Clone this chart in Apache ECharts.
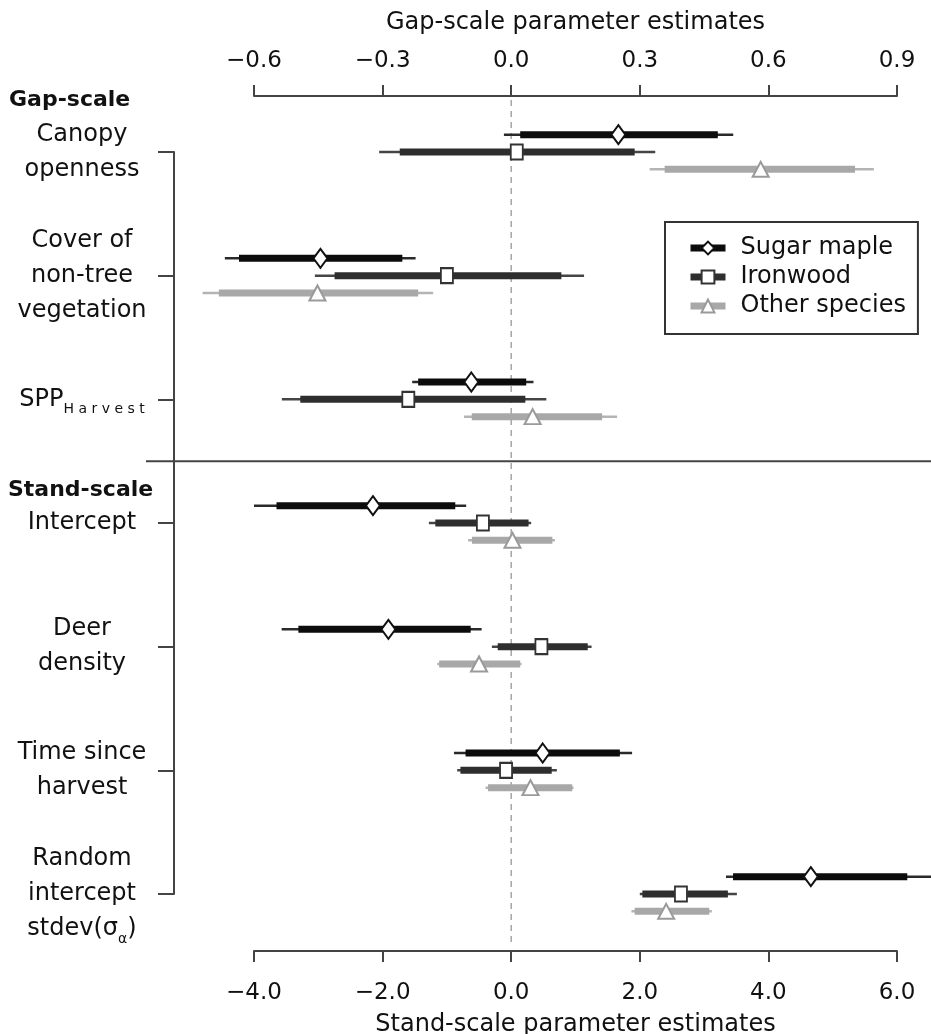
<!DOCTYPE html>
<html>
<head>
<meta charset="utf-8">
<script src="https://cdn.jsdelivr.net/npm/echarts@6/dist/echarts.min.js"></script>
<style>
html, body { margin: 0; padding: 0; background: #fff; }
#main { width: 931px; height: 1034px; }
</style>
</head>
<body>
<div id="main"></div>
<script>
// parameter labels, top to bottom (first three are gap-scale, the rest stand-scale)
const paramLabels = [
  'Canopy\nopenness',
  'Cover of\nnon-tree\nvegetation',
  '{n|SPP}{s|H a r v e s t}',
  'Intercept',
  'Deer\ndensity',
  'Time since\nharvest',
  'Random\nintercept\nstdev(σ{s|α})'
];
const speciesNames = ['Sugar maple', 'Ironwood', 'Other species'];

// each row: [low outer, low inner, median, high inner, high outer]
// gap-scale rows (Canopy openness, Cover of non-tree vegetation, SPP Harvest)
const sugarGap = [
  [-0.017, 0.021, 0.25, 0.482, 0.518],
  [-0.668, -0.635, -0.445, -0.254, -0.223],
  [-0.231, -0.217, -0.093, 0.035, 0.052]
];
const ironGap = [
  [-0.308, -0.26, 0.013, 0.288, 0.336],
  [-0.458, -0.412, -0.15, 0.117, 0.17],
  [-0.535, -0.492, -0.24, 0.033, 0.082]
];
const otherGap = [
  [0.323, 0.358, 0.582, 0.802, 0.846],
  [-0.72, -0.682, -0.452, -0.217, -0.182],
  [-0.11, -0.092, 0.05, 0.212, 0.247]
];
// stand-scale rows (Intercept, Deer density, Time since harvest, Random intercept)
const sugarStand = [
  [-4.0, -3.65, -2.15, -0.87, -0.70],
  [-3.57, -3.31, -1.91, -0.63, -0.46],
  [-0.89, -0.71, 0.49, 1.69, 1.88],
  [3.34, 3.45, 4.66, 6.16, 6.9]
];
const ironStand = [
  [-1.28, -1.18, -0.44, 0.27, 0.31],
  [-0.30, -0.21, 0.47, 1.19, 1.25],
  [-0.84, -0.79, -0.08, 0.63, 0.71],
  [2.0, 2.04, 2.64, 3.37, 3.51]
];
const otherStand = [
  [-0.67, -0.61, 0.02, 0.64, 0.68],
  [-1.15, -1.12, -0.50, 0.14, 0.16],
  [-0.40, -0.36, 0.30, 0.95, 0.97],
  [1.87, 1.92, 2.41, 3.08, 3.12]
];

const gapTicks = { min: -0.6, max: 0.9, step: 0.3 };
const standTicks = { min: -4, max: 6, step: 2 };

const species = [
  { name: speciesNames[0], gap: sugarGap, stand: sugarStand, shift: -0.14,
    color: '#0c0c0c', thin: '#2a2a2a', border: '#111', symbol: 'diamond', size: [14, 19] },
  { name: speciesNames[1], gap: ironGap, stand: ironStand, shift: 0,
    color: '#2e2e2e', thin: '#454545', border: '#333', symbol: 'rect', size: [12, 15] },
  { name: speciesNames[2], gap: otherGap, stand: otherStand, shift: 0.14,
    color: '#a8a8a8', thin: '#b4b4b4', border: '#9a9a9a', symbol: 'triangle', size: [16, 15] }
];

function fmt(v) {
  if (Math.abs(v) < 1e-9) v = 0;
  const s = Math.abs(v).toFixed(1);
  return v < 0 ? '\u2212' + s : s;
}

function hLine(api, x1, x2, y, stroke, width, dash) {
  const a = api.coord([x1, y]);
  const b = api.coord([x2, y]);
  return {
    type: 'line',
    shape: { x1: a[0], y1: a[1], x2: b[0], y2: b[1] },
    style: { stroke: stroke, lineWidth: width, lineDash: dash || null }
  };
}

const series = [];

// legend carriers (line + symbol icons)
species.forEach(function (sp) {
  series.push({
    name: sp.name, type: 'line', data: [], xAxisIndex: 0, yAxisIndex: 0,
    symbol: sp.symbol, symbolSize: sp.size,
    lineStyle: { color: sp.color, width: 7 },
    itemStyle: { color: '#fff', borderColor: sp.border, borderWidth: 2 }
  });
});

// dashed zero line and gap/stand separator
series.push({
  type: 'custom', name: 'guides', xAxisIndex: 0, yAxisIndex: 0, silent: true, z: 1,
  data: [[0]],
  renderItem: function (params, api) {
    const t = api.coord([0, -0.42]);
    const b = api.coord([0, 6.41]);
    return {
      type: 'group',
      children: [
        { type: 'line', shape: { x1: t[0], y1: t[1], x2: b[0], y2: b[1] },
          style: { stroke: '#a5a5a5', lineWidth: 1.5, lineDash: [6, 5] } },
        hLine(api, -5.68, 6.7, 2.5, '#444', 2)
      ]
    };
  }
});

species.forEach(function (sp) {
  [[sp.gap, 0, 1], [sp.stand, 3, 0]].forEach(function (part) {
    const rows = part[0].map(function (r, i) {
      return [r[0], r[1], r[2], r[3], r[4], part[1] + i + sp.shift];
    });
    series.push({
      name: sp.name + ' range', type: 'custom', xAxisIndex: part[2], yAxisIndex: 0,
      silent: true, z: 2, data: rows,
      encode: { x: [0, 4], y: 5 },
      renderItem: function (params, api) {
        const y = api.value(5);
        return {
          type: 'group',
          children: [
            hLine(api, api.value(0), api.value(4), y, sp.thin, 2.5),
            hLine(api, api.value(1), api.value(3), y, sp.color, 7)
          ]
        };
      }
    });
    series.push({
      name: sp.name + ' median', type: 'scatter', xAxisIndex: part[2], yAxisIndex: 0,
      clip: false, silent: true, z: 5,
      symbol: sp.symbol, symbolSize: sp.size,
      data: rows.map(function (r) { return [r[2], r[5]]; }),
      itemStyle: { color: '#fff', borderColor: sp.border, borderWidth: 2, opacity: 1 }
    });
  });
});

const chart = echarts.init(document.getElementById('main'));
chart.setOption({
  animation: false,
  backgroundColor: '#fff',
  textStyle: { fontFamily: 'DejaVu Sans', color: '#111' },
  grid: { left: 254, right: 34, top: 152, bottom: 140, outerBoundsMode: 'none', containLabel: false },
  legend: {
    data: speciesNames,
    orient: 'vertical',
    left: 665, top: 222,
    itemWidth: 35, itemHeight: 16, itemGap: 5,
    padding: [14, 12, 16, 22],
    borderColor: '#333', borderWidth: 2, borderRadius: 0,
    lineStyle: { width: 7 },
    textStyle: { fontSize: 24, color: '#111', fontFamily: 'DejaVu Sans', padding: [0, 0, 0, 10] }
  },
  xAxis: [
    {
      type: 'value', position: 'bottom', offset: 57,
      min: standTicks.min, max: standTicks.max, interval: standTicks.step,
      name: 'Stand-scale parameter estimates', nameLocation: 'middle', nameGap: 62,
      nameTextStyle: { fontSize: 24, color: '#111' },
      axisLine: { show: true, onZero: false, lineStyle: { color: '#444', width: 2 } },
      axisTick: { show: true, length: 11, lineStyle: { color: '#444', width: 2 } },
      axisLabel: { fontSize: 23, color: '#111', margin: 31, formatter: fmt },
      splitLine: { show: false }
    },
    {
      type: 'value', position: 'top', offset: 56,
      min: gapTicks.min, max: gapTicks.max, interval: gapTicks.step,
      name: 'Gap-scale parameter estimates', nameLocation: 'middle', nameGap: 61,
      nameTextStyle: { fontSize: 24, color: '#111' },
      axisLine: { show: true, onZero: false, lineStyle: { color: '#444', width: 2 } },
      axisTick: { show: true, length: 11, lineStyle: { color: '#444', width: 2 } },
      axisLabel: { fontSize: 23, color: '#111', margin: 23, formatter: fmt },
      splitLine: { show: false }
    }
  ],
  yAxis: {
    type: 'value', inverse: true, min: 0, max: paramLabels.length - 1, interval: 1,
    offset: 80,
    axisLine: { show: true, onZero: false, lineStyle: { color: '#444', width: 2 } },
    axisTick: { show: true, length: 16, lineStyle: { color: '#444', width: 2 } },
    axisLabel: {
      fontSize: 24, lineHeight: 35, color: '#111', align: 'center', margin: 92,
      formatter: function (v) { return paramLabels[v]; },
      rich: {
        n: { fontSize: 24, color: '#111' },
        s: { fontSize: 14, color: '#111', verticalAlign: 'bottom', padding: [12, 0, 0, 0] }
      }
    },
    splitLine: { show: false }
  },
  graphic: [
    { type: 'text', left: 9, top: 89, style: { text: 'Gap-scale', font: 'bold 22px "DejaVu Sans"', fill: '#111' } },
    { type: 'text', left: 8, top: 479, style: { text: 'Stand-scale', font: 'bold 22px "DejaVu Sans"', fill: '#111' } }
  ],
  series: series
});
</script>
</body>
</html>
